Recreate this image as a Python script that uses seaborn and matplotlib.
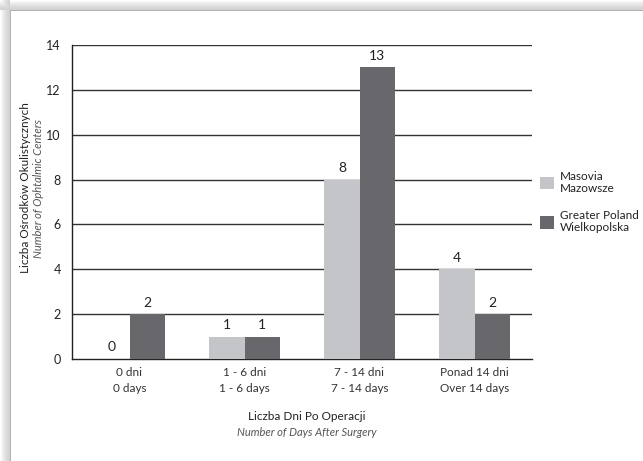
import numpy as np
import pandas as pd
import matplotlib
matplotlib.use("Agg")
import matplotlib.pyplot as plt
from matplotlib.patches import Patch
import seaborn as sns

# Data
categories = ["0 dni\n0 days", "1 - 6 dni\n1 - 6 days", "7 - 14 dni\n7 - 14 days", "Ponad 14 dni\nOver 14 days"]
regions = ["Masovia\nMazowsze", "Greater Poland\nWielkopolska"]
masovia = [0, 1, 8, 4]
greater_poland = [2, 1, 13, 2]
y_ticks = [0, 2, 4, 6, 8, 10, 12, 14]

colors = ["#c4c5c8", "#68676c"]

df = pd.DataFrame({
    "category": categories * 2,
    "region": [regions[0]] * 4 + [regions[1]] * 4,
    "count": masovia + greater_poland,
})

sns.set_theme(style="white")
plt.rcParams["font.family"] = ["Lato", "DejaVu Sans"]

W, H, DPI = 643, 461, 100
fig = plt.figure(figsize=(W / DPI, H / DPI), dpi=DPI, facecolor="white")

# Card background with soft drop shadow on the top and left edges
xs = np.arange(W)
ys = np.arange(H)
shade_x = np.where(xs < 10, 0.82 + 0.18 * (1 - (xs / 10.0)) ** 1.5, 1.0)
shade_y = np.where(ys < 10, 0.82 + 0.18 * (1 - (ys / 10.0)) ** 1.5, 1.0)
shade = np.minimum(shade_y[:, None], shade_x[None, :])
bg = np.repeat(shade[:, :, None], 3, axis=2)
bg[10:, 10, :] = 0.70
bg[10, 10:, :] = 0.70
fig.figimage(bg[::-1], xo=0, yo=0, origin="lower", zorder=-5)

ax = fig.add_axes([72 / W, 1 - 359 / H, (532 - 72) / W, (359 - 45) / H])
ax.patch.set_alpha(0)

sns.barplot(
    data=df, x="category", y="count", hue="region",
    palette=colors, width=0.61, gap=0, saturation=1,
    linewidth=0, edgecolor="none",
    ax=ax, legend=False, zorder=3,
)

for container in ax.containers:
    ax.bar_label(container, fmt="%d", padding=4, fontsize=10, color="#222222")

ax.set_ylim(0, 14)
ax.set_xlim(-0.5, 3.5)
ax.set_yticks(y_ticks)
ax.set_yticklabels([str(t) for t in y_ticks], fontsize=9, color="#222222")
ax.tick_params(axis="y", length=0, pad=8)
ax.set_xticks(range(len(categories)))
ax.set_xticklabels(categories, fontsize=8.5, color="#333333", linespacing=1.5)
ax.tick_params(axis="x", which="major", length=0, pad=6)
ax.set_xticks([0.5, 1.5, 2.5, 3.5], minor=True)
ax.tick_params(axis="x", which="minor", direction="in", length=6, width=1, color="#222222")

ax.grid(False)
for t in y_ticks[1:]:
    ax.axhline(t, color="#333333", lw=1.0, zorder=1)

for side in ["top", "right"]:
    ax.spines[side].set_visible(False)
for side in ["left", "bottom"]:
    ax.spines[side].set_color("#222222")
    ax.spines[side].set_linewidth(1.0)

ax.set_xlabel("")
ax.set_ylabel("")

# Axis titles: Polish line plus English italic line
fig.text(26 / W, 1 - 188 / H, "Liczba Ośrodków Okulistycznych", rotation=90,
         ha="center", va="center", fontsize=8.5, color="#222222")
fig.text(39 / W, 1 - 188 / H, "Number of Ophtalmic Centers", rotation=90,
         ha="center", va="center", fontsize=8, style="italic", color="#555555")
fig.text(307 / W, 1 - 416 / H, "Liczba Dni Po Operacji",
         ha="center", va="center", fontsize=8.5, color="#222222")
fig.text(307 / W, 1 - 432 / H, "Number of Days After Surgery",
         ha="center", va="center", fontsize=8, style="italic", color="#555555")

handles = [Patch(facecolor=c, edgecolor="none") for c in colors]
fig.legend(handles, regions, loc="center left", bbox_to_anchor=(535 / W, 1 - 202 / H),
           frameon=False, fontsize=8.5, handlelength=1.2, handleheight=1.3,
           handletextpad=0.5, labelspacing=1.3, labelcolor="#222222",
           borderaxespad=0, borderpad=0.4)

fig.savefig("out.png", dpi=DPI, facecolor="white")
